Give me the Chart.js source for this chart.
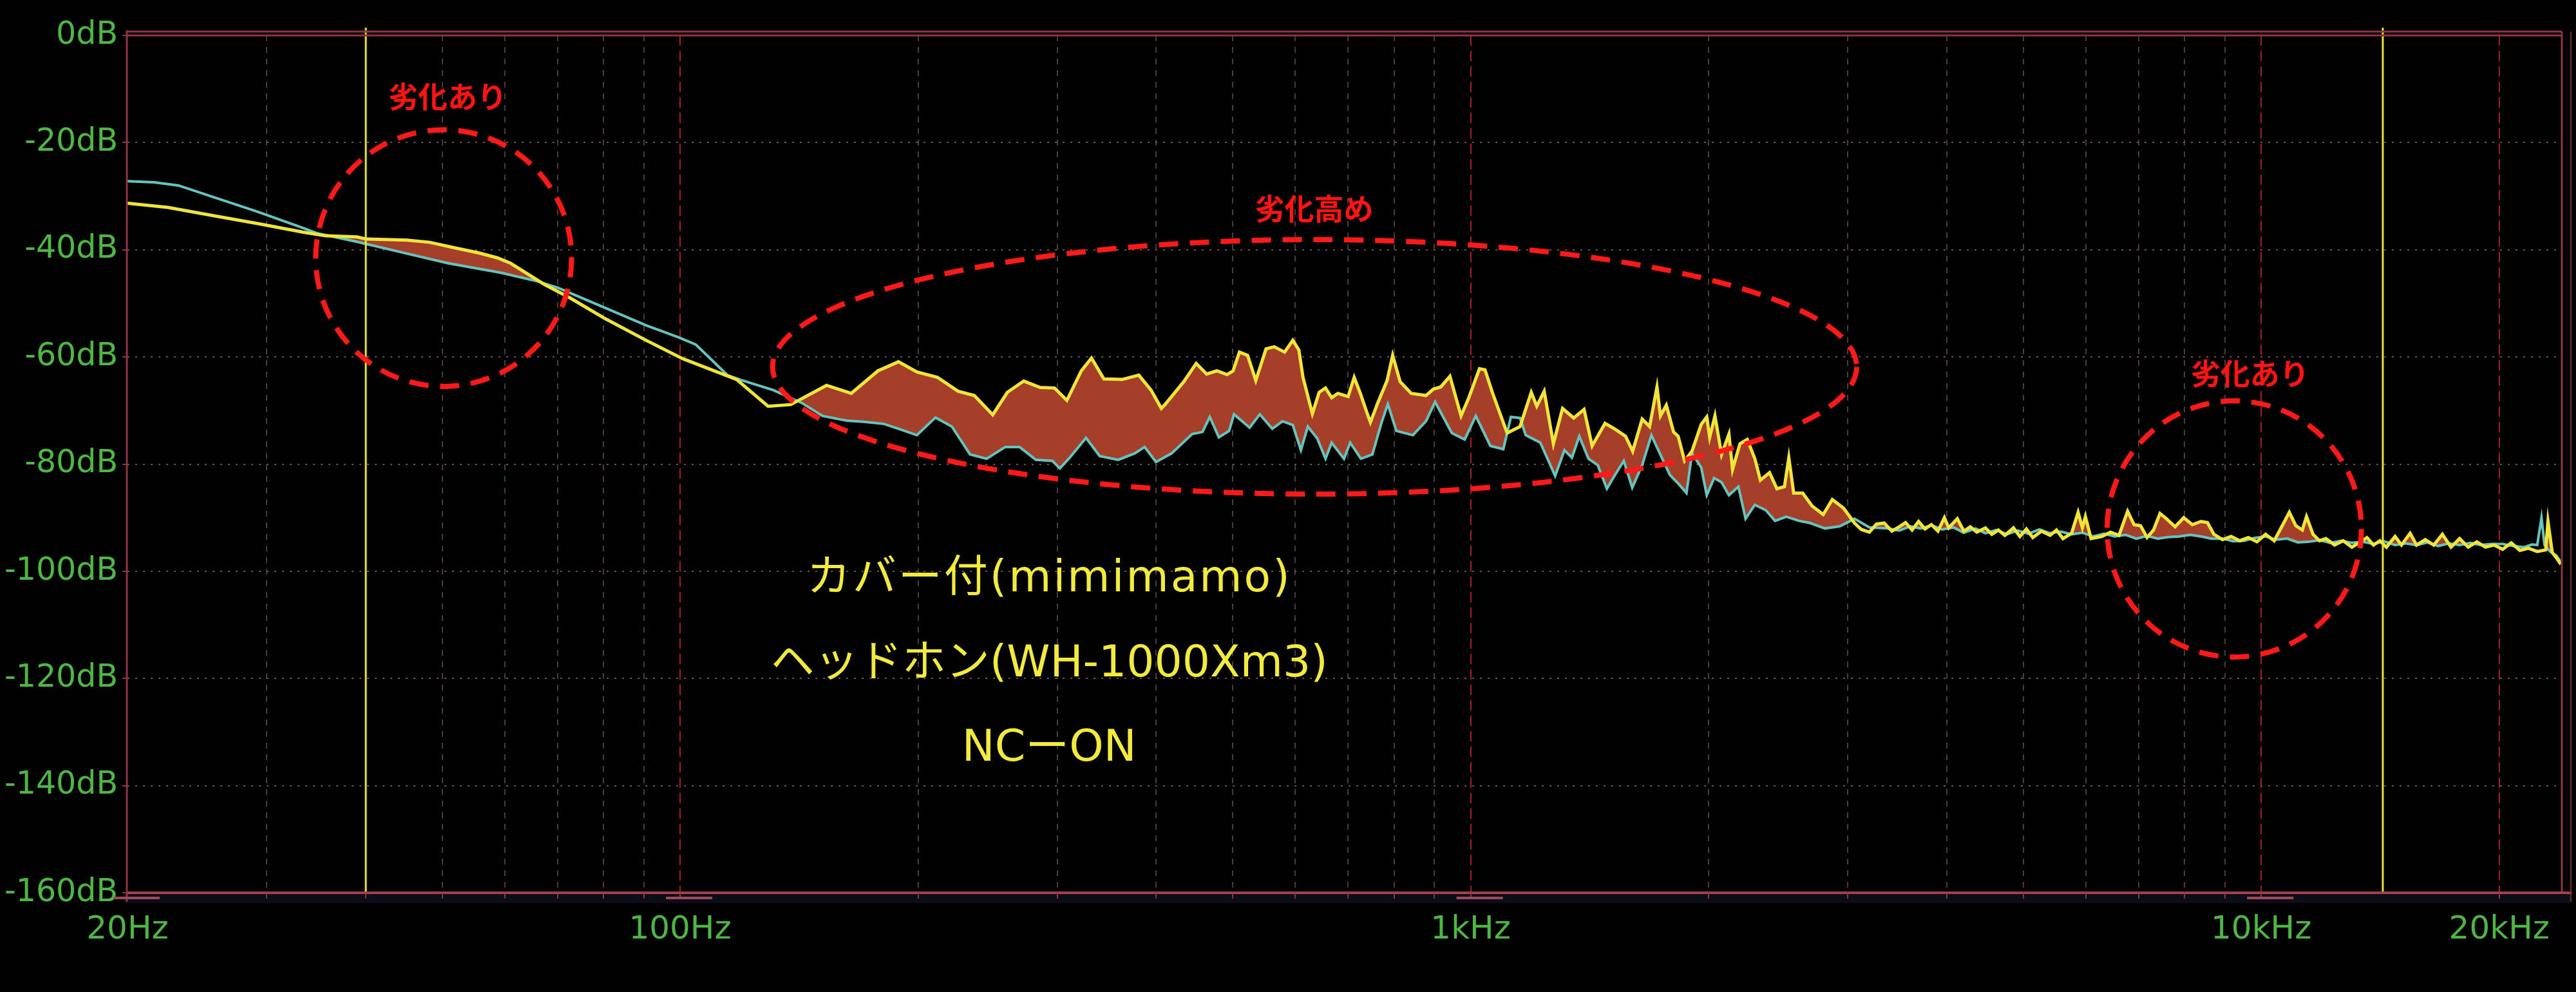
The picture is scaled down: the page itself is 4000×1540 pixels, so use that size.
<!DOCTYPE html>
<html>
<head>
<meta charset="utf-8">
<script src="https://cdn.jsdelivr.net/npm/chart.js@4.4.1/dist/chart.umd.min.js"></script>
<style>
  html, body { margin: 0; padding: 0; background: #000; }
  #wrap { width: 4000px; height: 1540px; position: relative; }
</style>
</head>
<body>
<div id="wrap"><canvas id="c"></canvas></div>
<script>
// ---------- data ----------
const xTickHz = [20, 100, 1000, 10000, 20000];
const xTickLabels = ['20Hz', '100Hz', '1kHz', '10kHz', '20kHz'];
const yTickDb = [0, -20, -40, -60, -80, -100, -120, -140, -160];
const cursorHz = [40, 14240];

const cyanHz = [
  20, 21.6, 23.2, 25.6, 29.2, 33.3, 34.7, 39.0, 44.5, 50.8,
  59.4, 66.1, 70.1, 79.4, 90.6, 99.4, 104.7, 114.8, 119.4, 131.2,
  142.6, 151.4, 162.6, 170.6, 181.1, 188.9, 199.3, 210.4, 220.7, 232.7,
  244.2, 257.8, 268.8, 281.8, 295.8, 302.2, 310.2, 326.2, 339.4, 358.2,
  375.8, 386.9, 399.9, 418.5, 444.3, 457.9, 467.7, 480.2, 494.8, 501.9,
  525.3, 541.1, 561.1, 578.2, 595.7, 609.9, 622.3, 639.6, 655.2, 667.1,
  691.4, 704, 726.5, 751, 771.5, 785.6, 805.4, 845.3, 877.9, 901.6,
  946.6, 982.7, 1015, 1059, 1099.8, 1124.4, 1154.5, 1174, 1225, 1279,
  1314, 1343, 1372, 1409.5, 1448, 1487, 1520, 1562, 1601, 1648,
  1693, 1729.5, 1786, 1835, 1875, 1905, 1957, 1989, 2032, 2076.5,
  2121.8, 2181, 2227, 2288, 2362, 2427, 2507, 2603, 2689, 2806,
  2930, 3059, 3194, 3371, 3483, 3600, 3709, 3830, 3949, 4080,
  4205, 4350, 4478, 4620, 4768, 4920, 5077, 5240, 5406, 5580,
  5756, 5940, 6130, 6330, 6525, 6740, 6949, 7170, 7400, 7640,
  7879, 8130, 8390, 8650, 8933, 9220, 9511, 9800, 10127, 10450,
  10784, 11120, 11481, 11850, 12226, 12620, 13021, 13440, 13866, 14300,
  14766, 15230, 15720, 16220, 16738, 17270, 17820, 18390, 18975, 19580,
  20200, 20850, 21510, 22000, 22340, 22620, 22820, 23190, 23630, 23930
];
const cyanDb = [
  -27.2, -27.4, -28.0, -30.1, -32.9, -35.9, -36.9, -38.5, -40.5, -42.5,
  -44.3, -45.9, -47.1, -50.5, -54.1, -56.3, -57.7, -63.4, -64.3, -66.2,
  -68.6, -71.0, -71.9, -72.1, -72.5, -73.4, -74.6, -71.3, -73.0, -78.2,
  -79.0, -76.8, -76.8, -79.2, -79.4, -80.8, -79.0, -75.1, -78.5, -79.2,
  -78.0, -76.8, -79.6, -78.0, -74.4, -74.0, -71.2, -75.0, -73.8, -70.7,
  -73.2, -70.7, -73.4, -72.0, -72.7, -77.4, -73.0, -75.2, -79.0, -76.0,
  -79.0, -76.0, -79.0, -78.2, -72.2, -68.8, -73.8, -74.6, -72.0, -68.4,
  -74.2, -75.4, -71.0, -76.6, -77.2, -71.2, -71.4, -74.6, -76.0, -82.2,
  -77.4, -78.8, -74.8, -79.0, -80.2, -84.6, -82.2, -79.4, -84.4, -80.2,
  -74.6, -77.6, -82.0, -83.8, -85.4, -78.0, -80.6, -85.8, -82.6, -83.4,
  -85.8, -84.2, -90.2, -87.6, -88.6, -90.6, -89.8, -90.6, -91.0, -92.0,
  -91.6, -90.2, -91.8, -92.0, -92.4, -91.6, -92.0, -91.4, -92.2, -91.8,
  -92.8, -92.0, -92.9, -92.3, -93.1, -92.4, -93.0, -92.2, -92.9, -92.6,
  -93.1, -92.8, -93.5, -93.0, -93.5, -93.2, -93.9, -93.4, -93.9, -93.6,
  -93.5, -93.2, -93.5, -93.9, -93.9, -94.4, -94.3, -93.8, -93.5, -94.1,
  -93.9, -94.6, -94.5, -94.2, -94.7, -94.3, -94.7, -94.5, -94.9, -94.4,
  -95.1, -94.8, -95.1, -94.6, -95.3, -94.8, -95.1, -94.7, -95.1, -94.9,
  -94.9, -95.3, -95.5, -95.0, -95.1, -90.0, -95.1, -96.3, -97.1, -98.3
];

const yellowHz = [
  20, 22.5, 25.6, 29.2, 33.3, 35.6, 39.0, 40.1, 45.1, 48.2,
  52.1, 55.7, 58.7, 61.0, 64.8, 67.4, 72.4, 80.5, 90.6, 100.7,
  117.9, 129.2, 138, 153.2, 164.6, 177.9, 188.9, 199.3, 211.6, 224.7,
  235.6, 248.6, 259.4, 272.1, 285.4, 297.6, 308.5, 321.7, 331.4, 343.6,
  362.4, 380.4, 394.2, 406.2, 411, 433.7, 449.6, 463.4, 477.5, 491.9,
  500.5, 509.9, 522.2, 534.8, 551, 564.3, 581.6, 595.7, 606.3, 613.6,
  630.6, 643.2, 655.2, 667.1, 679.2, 699.8, 712.3, 726, 738.4, 746.8,
  762.8, 784, 796.7, 814.2, 840.9, 877.9, 897, 916.6, 941.4, 972.3,
  993.4, 1026, 1042.6, 1065, 1112, 1154.5, 1193, 1212.4, 1238.8, 1272.4,
  1306.8, 1350, 1391.3, 1424.4, 1479, 1520, 1570, 1603, 1648, 1684,
  1720.5, 1738, 1768, 1805.6, 1830, 1864.5, 1905, 1957, 1989, 2006,
  2037, 2076.5, 2121.8, 2144, 2191, 2238, 2288, 2325, 2388, 2440,
  2494, 2526, 2562, 2630, 2703, 2792, 2867, 2962, 3059, 3120,
  3194, 3260, 3334, 3410, 3483, 3549, 3617, 3686, 3755, 3826,
  3900, 3974, 4024, 4126, 4205, 4285, 4367, 4478, 4563, 4650,
  4739, 4859, 4951, 5046, 5141, 5272, 5406, 5508, 5613, 5756,
  5866, 5940, 5992, 6091, 6285, 6445, 6608, 6776, 6905, 7037,
  7171, 7307, 7446, 7588, 7781, 7979, 8182, 8390, 8549, 8712,
  8933, 9160, 9393, 9631, 9876, 10127, 10385, 10649, 10852, 11059,
  11270, 11409, 11627, 11848, 12073, 12381, 12696, 13021, 13352, 13606,
  13866, 14130, 14398, 14766, 15045, 15428, 15720, 16120, 16529, 16948,
  17378, 17820, 18273, 18737, 19212, 19701, 20200, 20714, 21240, 21780,
  22340, 22900, 23050, 23340, 23630, 23930
];
const yellowDb = [
  -31.3, -32.1, -33.6, -35.1, -36.7, -37.4, -37.6, -38.0, -38.2, -38.6,
  -39.7, -40.6, -41.5, -42.5, -44.9, -46.5, -48.9, -52.9, -56.9, -60.3,
  -64.2, -69.2, -68.9, -65.3, -66.8, -62.6, -60.9, -62.8, -63.8, -66.4,
  -67.2, -70.8, -66.6, -64.5, -65.7, -65.8, -68.1, -62.6, -60.2, -64.1,
  -64.2, -63.4, -66.2, -69.6, -68.8, -64.6, -61.2, -63.2, -62.6, -63.3,
  -62.6, -59.1, -59.7, -64.4, -58.5, -58.1, -59.1, -56.9, -58.7, -63.8,
  -70.6, -66.6, -65.8, -67.6, -66.8, -67.4, -63.8, -67.0, -70.2, -72.2,
  -68.6, -64.4, -59.7, -64.6, -66.8, -67.2, -66.0, -65.6, -63.6, -71.0,
  -67.8, -62.2, -62.4, -66.6, -74.2, -73.0, -66.6, -69.2, -66.4, -76.2,
  -69.6, -71.4, -69.8, -76.6, -72.4, -73.4, -74.8, -77.6, -71.6, -73.0,
  -65.6, -71.0, -69.0, -74.0, -74.8, -79.4, -77.6, -72.6, -71.2, -75.0,
  -71.0, -78.2, -74.4, -81.0, -76.2, -75.4, -79.0, -83.0, -81.6, -84.6,
  -84.2, -78.8, -85.4, -85.4, -87.8, -89.4, -86.6, -88.2, -91.0, -92.2,
  -92.7, -91.2, -91.0, -92.5, -91.7, -90.9, -92.3, -90.7, -92.1, -91.3,
  -92.5, -90.0, -91.9, -90.2, -92.5, -91.7, -92.7, -91.9, -93.1, -92.3,
  -93.3, -91.9, -93.5, -92.1, -93.7, -92.5, -93.3, -92.3, -93.9, -92.9,
  -89.0, -91.9, -89.8, -93.9, -93.5, -92.7, -93.3, -88.8, -91.3, -91.5,
  -93.7, -92.3, -89.2, -90.2, -91.7, -90.0, -91.3, -90.7, -90.9, -93.1,
  -94.1, -93.5, -94.3, -93.7, -94.5, -93.1, -94.3, -91.3, -89.0, -91.5,
  -92.3, -89.8, -93.1, -94.3, -93.9, -95.1, -94.3, -95.5, -94.5, -93.7,
  -95.1, -94.3, -95.5, -93.5, -95.1, -92.9, -95.1, -94.1, -95.1, -93.1,
  -95.5, -93.9, -95.5, -94.5, -95.5, -95.1, -95.9, -94.7, -96.1, -95.7,
  -96.3, -96.0, -90.7, -96.5, -97.5, -98.7
];

const noteTexts = ['劣化あり', '劣化高め', '劣化あり'];
const captionTexts = ['カバー付(mimimamo)', 'ヘッドホン(WH-1000Xm3)', 'NCーON'];

// ---------- annotation placement (data coordinates) ----------
const ellipseBounds = [
  { hz: [34.6, 72.9],   db: [-17.6, -65.5] },
  { hz: [130.9, 3078],  db: [-38.1, -85.6] },
  { hz: [6383, 13388],  db: [-68.2, -116.0] }
];
const notePlaces = [
  { hz: 50.8, db: -11.4 },
  { hz: 633.7, db: -32.3 },
  { hz: 9679, db: -63.0 }
];
const captionPlace = { hz: 293, db: [-103.8, -119.6, -135.3] };
const captionSpacing = ['3px', '0px', '0px'];

// ---------- styles ----------
const GREEN = '#4fb544';
const YELLOW = '#f0e63a';
const CYAN = '#66c4bf';
const FILL = '#a63f29';
const FRAME = '#8e3442';

const toPts = (xs, ys) => xs.map((v, i) => ({ x: v, y: ys[i] }));

const majorHz = [100, 1000, 10000, 20000];
const minorHz = [];
[10, 100, 1000, 10000].forEach(d => {
  for (let m = 2; m <= 9; m++) {
    const v = m * d;
    if (v > 20 && v < 24000 && !majorHz.includes(v)) minorHz.push(v);
  }
});

function seg(ctx, x1, y1, x2, y2) {
  ctx.beginPath(); ctx.moveTo(x1, y1); ctx.lineTo(x2, y2); ctx.stroke();
}

const scopePlugin = {
  id: 'scope',
  beforeDraw(chart) {
    const { ctx, chartArea: a, scales: { x, y } } = chart;
    ctx.save();
    ctx.fillStyle = '#000';
    ctx.fillRect(0, 0, chart.width, chart.height);
    ctx.lineWidth = 2;
    ctx.setLineDash([3, 9]);
    ctx.strokeStyle = 'rgba(130,100,100,0.8)';
    yTickDb.forEach(v => {
      const py = Math.round(y.getPixelForValue(v));
      seg(ctx, a.left, py, a.right, py);
    });
    ctx.setLineDash([9, 9]);
    ctx.strokeStyle = 'rgba(105,85,85,0.7)';
    minorHz.forEach(v => {
      const px = Math.round(x.getPixelForValue(v));
      seg(ctx, px, a.top, px, a.bottom);
    });
    ctx.setLineDash([16, 8]);
    ctx.strokeStyle = 'rgba(190,35,50,0.85)';
    majorHz.forEach(v => {
      const px = Math.round(x.getPixelForValue(v));
      seg(ctx, px, a.top, px, a.bottom);
    });
    ctx.restore();
  },
  afterDatasetsDraw(chart) {
    const { ctx, chartArea: a, scales: { x, y } } = chart;
    ctx.save();
    ctx.strokeStyle = '#e9e33e';
    ctx.lineWidth = 3;
    cursorHz.forEach(v => {
      const px = Math.round(x.getPixelForValue(v));
      seg(ctx, px, a.top - 12, px, a.bottom);
    });
    ctx.fillStyle = '#0b0d18';
    ctx.fillRect(a.left - 6, a.bottom + 2, a.right - a.left + 20, 14);
    ctx.strokeStyle = FRAME;
    ctx.lineWidth = 3;
    seg(ctx, a.left - 1, a.top - 8, a.left - 1, a.bottom + 14);
    seg(ctx, a.left, a.top - 6, a.right, a.top - 6);
    seg(ctx, a.left, a.top, a.right, a.top);
    seg(ctx, a.right, a.top - 6, a.right, a.bottom);
    ctx.strokeStyle = '#5a2430';
    seg(ctx, a.right + 14, a.top - 6, a.right + 14, a.bottom + 14);
    ctx.strokeStyle = '#a8404c';
    ctx.lineWidth = 4;
    seg(ctx, a.left, a.bottom, a.right + 14, a.bottom);
    ctx.lineWidth = 2;
    ctx.strokeStyle = '#8e3442';
    minorHz.concat(majorHz).forEach(v => {
      const px = Math.round(x.getPixelForValue(v));
      seg(ctx, px, a.bottom, px, a.bottom + 9);
    });
    yTickDb.forEach(v => {
      const py = Math.round(y.getPixelForValue(v));
      seg(ctx, a.left - 8, py, a.left, py);
    });
    ctx.fillStyle = '#9c4a58';
    xTickHz.slice(0, 4).forEach(v => {
      const px = x.getPixelForValue(v);
      ctx.fillRect(px - 22, a.bottom + 6, 72, 4);
    });
    ctx.restore();
  },
  afterDraw(chart) {
    const { ctx, scales: { x, y } } = chart;
    ctx.save();
    ctx.strokeStyle = '#ff1a1a';
    ctx.lineWidth = 8;
    ctx.setLineDash([30, 18]);
    ellipseBounds.forEach(e => {
      const l = x.getPixelForValue(e.hz[0]), r = x.getPixelForValue(e.hz[1]);
      const t = y.getPixelForValue(e.db[0]), b = y.getPixelForValue(e.db[1]);
      ctx.beginPath();
      ctx.ellipse((l + r) / 2, (t + b) / 2, (r - l) / 2, (b - t) / 2, 0, 0, Math.PI * 2);
      ctx.stroke();
    });
    ctx.setLineDash([]);
    ctx.fillStyle = '#ff1414';
    ctx.font = 'bold 46px "Noto Sans CJK JP", sans-serif';
    ctx.textAlign = 'center';
    ctx.textBaseline = 'middle';
    noteTexts.forEach((t, i) => {
      ctx.fillText(t, x.getPixelForValue(notePlaces[i].hz), y.getPixelForValue(notePlaces[i].db));
    });
    ctx.fillStyle = '#f2ea3c';
    ctx.font = '68px "DejaVu Sans", "Noto Sans CJK JP", sans-serif';
    ctx.textBaseline = 'alphabetic';
    captionTexts.forEach((t, i) => {
      if ('letterSpacing' in ctx) ctx.letterSpacing = captionSpacing[i];
      ctx.fillText(t, x.getPixelForValue(captionPlace.hz), y.getPixelForValue(captionPlace.db[i]));
    });
    ctx.restore();
  }
};

new Chart(document.getElementById('c'), {
  type: 'line',
  data: {
    datasets: [
      {
        label: 'cyan',
        data: toPts(cyanHz, cyanDb),
        borderColor: CYAN,
        borderWidth: 4,
        pointRadius: 0,
        tension: 0,
        fill: false,
        order: 1
      },
      {
        label: 'yellow',
        data: toPts(yellowHz, yellowDb),
        borderColor: YELLOW,
        borderWidth: 5,
        pointRadius: 0,
        tension: 0,
        fill: { target: 0, above: FILL, below: 'rgba(0,0,0,0)' },
        order: 0
      }
    ]
  },
  options: {
    responsive: true,
    maintainAspectRatio: false,
    devicePixelRatio: 1,
    animation: false,
    layout: { padding: { left: 0, right: 22, top: 55, bottom: 0 } },
    plugins: {
      legend: { display: false },
      tooltip: { enabled: false },
      filler: { propagate: false, drawTime: 'beforeDatasetsDraw' }
    },
    scales: {
      x: {
        type: 'logarithmic',
        min: 20,
        max: 24000,
        afterBuildTicks: s => { s.ticks = xTickHz.map(v => ({ value: v })); },
        afterFit: s => { s.height = 154; },
        grid: { display: false, drawTicks: false },
        border: { display: false },
        ticks: {
          autoSkip: false,
          maxRotation: 0,
          padding: 28,
          color: GREEN,
          font: { family: 'DejaVu Sans', size: 50 },
          callback: (v, i) => xTickLabels[i]
        }
      },
      y: {
        type: 'linear',
        min: -160,
        max: 0,
        afterBuildTicks: s => { s.ticks = yTickDb.map(v => ({ value: v })); },
        afterFit: s => { s.width = 198; },
        grid: { display: false, drawTicks: false },
        border: { display: false },
        ticks: {
          padding: 15,
          color: GREEN,
          font: { family: 'DejaVu Sans', size: 49 },
          callback: v => v + 'dB'
        }
      }
    }
  },
  plugins: [scopePlugin]
});
</script>
</body>
</html>
